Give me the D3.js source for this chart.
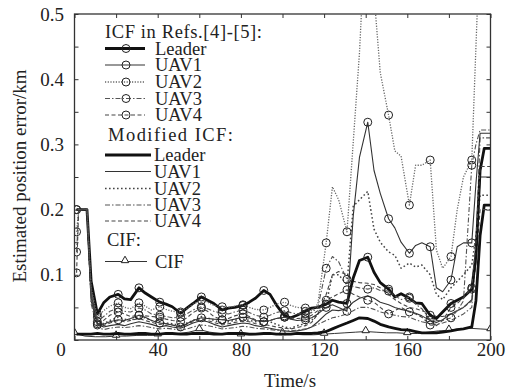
<!DOCTYPE html>
<html>
<head>
<meta charset="utf-8">
<script src="https://cdn.jsdelivr.net/npm/d3@7/dist/d3.min.js"></script>
<style>
  html, body { margin: 0; padding: 0; background: #fff; }
  svg { display: block; font-family: "Liberation Serif", "Times New Roman", serif; }
</style>
</head>
<body>
<svg id="chart" width="516" height="391"></svg>
<script>
// Sample times (s) shared by the ICF and modified ICF estimates
const time = [1, 2, 4, 6, 8, 11, 14, 17, 21, 24, 27, 31, 34, 37, 41, 44, 47, 51, 54, 57,
  61, 64, 67, 71, 74, 77, 81, 84, 87, 91, 94, 97, 101, 104, 107, 111, 114, 117,
  121, 124, 127, 131, 134, 137, 141, 144, 147, 151, 154, 157, 161, 164, 167,
  171, 174, 177, 181, 184, 187, 191, 193, 195, 197, 200];

// ICF in Refs.[4]-[5] (km)
const icfLeader = [0.2, 0.2, 0.2, 0.2, 0.09, 0.04, 0.057, 0.066, 0.07, 0.063, 0.062, 0.08, 0.072, 0.066,
  0.058, 0.055, 0.051, 0.041, 0.049, 0.056, 0.066, 0.061, 0.056, 0.046, 0.049, 0.05, 0.053, 0.058, 0.064,
  0.076, 0.07, 0.054, 0.037, 0.034, 0.038, 0.044, 0.049, 0.05, 0.055, 0.061, 0.058, 0.056, 0.095, 0.122,
  0.127, 0.104, 0.088, 0.078, 0.066, 0.071, 0.064, 0.057, 0.056, 0.038, 0.033, 0.043, 0.056, 0.061, 0.066,
  0.078, 0.13, 0.26, 0.294, 0.294];
const icfUav1 = [0.2, 0.2, 0.2, 0.2, 0.07, 0.025, 0.024, 0.028, 0.031, 0.03, 0.033, 0.038, 0.035, 0.03,
  0.026, 0.025, 0.023, 0.02, 0.025, 0.03, 0.034, 0.033, 0.032, 0.031, 0.03, 0.032, 0.035, 0.034, 0.03,
  0.028, 0.03, 0.033, 0.035, 0.032, 0.03, 0.031, 0.034, 0.04, 0.05, 0.054, 0.05, 0.044, 0.19, 0.28,
  0.334, 0.26, 0.225, 0.186, 0.172, 0.15, 0.133, 0.145, 0.149, 0.143, 0.08, 0.074, 0.092, 0.143, 0.149,
  0.149, 0.24, 0.317, 0.317, 0.317];
const icfUav2 = [0.166, 0.2, 0.2, 0.2, 0.08, 0.035, 0.045, 0.052, 0.057, 0.05, 0.048, 0.057, 0.052, 0.046,
  0.051, 0.047, 0.044, 0.043, 0.048, 0.055, 0.061, 0.058, 0.053, 0.051, 0.05, 0.052, 0.054, 0.05, 0.047,
  0.046, 0.05, 0.055, 0.058, 0.053, 0.05, 0.049, 0.045, 0.055, 0.149, 0.235, 0.215, 0.166, 0.303, 0.44,
  0.7, 0.53, 0.41, 0.345, 0.29, 0.282, 0.207, 0.268, 0.268, 0.276, 0.138, 0.11, 0.128, 0.2, 0.25,
  0.276, 0.45, 0.62, 0.65, 0.65];
const icfUav3 = [0.135, 0.2, 0.2, 0.2, 0.075, 0.028, 0.036, 0.044, 0.049, 0.044, 0.043, 0.049, 0.046, 0.04,
  0.038, 0.036, 0.034, 0.035, 0.04, 0.046, 0.051, 0.048, 0.044, 0.041, 0.04, 0.043, 0.046, 0.042, 0.038,
  0.035, 0.038, 0.042, 0.045, 0.042, 0.04, 0.04, 0.042, 0.05, 0.11, 0.128, 0.12, 0.093, 0.082, 0.08,
  0.078, 0.08, 0.076, 0.075, 0.068, 0.062, 0.066, 0.055, 0.048, 0.031, 0.03, 0.03, 0.034, 0.045, 0.06,
  0.268, 0.3, 0.322, 0.322, 0.322];
const icfUav4 = [0.103, 0.2, 0.2, 0.2, 0.07, 0.023, 0.03, 0.038, 0.043, 0.04, 0.036, 0.038, 0.037, 0.036,
  0.035, 0.032, 0.03, 0.028, 0.034, 0.042, 0.049, 0.044, 0.036, 0.031, 0.033, 0.037, 0.04, 0.036, 0.031,
  0.028, 0.03, 0.033, 0.035, 0.034, 0.033, 0.034, 0.038, 0.045, 0.061, 0.066, 0.071, 0.077, 0.07, 0.066,
  0.061, 0.058, 0.05, 0.04, 0.045, 0.05, 0.043, 0.04, 0.035, 0.023, 0.022, 0.03, 0.05, 0.056, 0.065,
  0.08, 0.15, 0.266, 0.266, 0.266];

// Modified ICF (km)
const modLeader = [0.009, 0.009, 0.009, 0.009, 0.009, 0.01, 0.009, 0.009, 0.01, 0.009, 0.009, 0.01, 0.01, 0.009,
  0.009, 0.01, 0.01, 0.009, 0.009, 0.01, 0.01, 0.01, 0.009, 0.009, 0.01, 0.01, 0.01, 0.009, 0.009,
  0.01, 0.01, 0.009, 0.009, 0.009, 0.01, 0.01, 0.01, 0.011, 0.013, 0.017, 0.021, 0.026, 0.03, 0.034,
  0.033, 0.029, 0.024, 0.02, 0.018, 0.016, 0.015, 0.013, 0.011, 0.011, 0.011, 0.012, 0.014, 0.016, 0.017,
  0.02, 0.06, 0.16, 0.207, 0.207];
const modUav1 = [0.2, 0.2, 0.2, 0.2, 0.06, 0.024, 0.02, 0.022, 0.024, 0.022, 0.025, 0.028, 0.026, 0.024,
  0.02, 0.022, 0.02, 0.018, 0.022, 0.026, 0.03, 0.028, 0.024, 0.02, 0.022, 0.024, 0.026, 0.025, 0.022,
  0.02, 0.018, 0.016, 0.014, 0.013, 0.014, 0.016, 0.02, 0.028, 0.04, 0.046, 0.045, 0.048, 0.058, 0.064,
  0.068, 0.064, 0.058, 0.054, 0.05, 0.047, 0.044, 0.041, 0.037, 0.03, 0.027, 0.031, 0.04, 0.045, 0.05,
  0.062, 0.12, 0.25, 0.25, 0.25];
const modUav2 = [0.2, 0.2, 0.2, 0.2, 0.065, 0.03, 0.025, 0.03, 0.035, 0.032, 0.03, 0.036, 0.034, 0.03,
  0.028, 0.026, 0.025, 0.022, 0.026, 0.03, 0.036, 0.034, 0.03, 0.026, 0.028, 0.03, 0.032, 0.03, 0.028,
  0.03, 0.028, 0.024, 0.02, 0.018, 0.022, 0.025, 0.03, 0.04, 0.055, 0.1, 0.1, 0.085, 0.205, 0.215,
  0.228, 0.17, 0.15, 0.135, 0.13, 0.11, 0.118, 0.112, 0.115, 0.1, 0.07, 0.062, 0.08, 0.09, 0.1,
  0.115, 0.16, 0.222, 0.222, 0.222];
const modUav3 = [0.2, 0.2, 0.2, 0.2, 0.055, 0.02, 0.016, 0.018, 0.02, 0.019, 0.02, 0.022, 0.021, 0.019,
  0.017, 0.018, 0.017, 0.015, 0.017, 0.02, 0.023, 0.022, 0.02, 0.017, 0.018, 0.019, 0.021, 0.02, 0.018,
  0.017, 0.016, 0.015, 0.014, 0.014, 0.015, 0.017, 0.02, 0.024, 0.03, 0.034, 0.036, 0.04, 0.045, 0.05,
  0.05, 0.047, 0.043, 0.04, 0.038, 0.036, 0.035, 0.031, 0.028, 0.025, 0.024, 0.026, 0.03, 0.035, 0.04,
  0.05, 0.14, 0.31, 0.31, 0.31];
const modUav4 = [0.2, 0.2, 0.2, 0.2, 0.07, 0.026, 0.022, 0.026, 0.03, 0.028, 0.03, 0.033, 0.03, 0.027,
  0.024, 0.025, 0.023, 0.02, 0.024, 0.028, 0.032, 0.03, 0.027, 0.023, 0.025, 0.027, 0.029, 0.028, 0.025,
  0.024, 0.022, 0.02, 0.018, 0.017, 0.019, 0.022, 0.027, 0.04, 0.07, 0.1, 0.105, 0.1, 0.09, 0.088,
  0.087, 0.085, 0.08, 0.07, 0.062, 0.056, 0.05, 0.048, 0.045, 0.04, 0.036, 0.036, 0.04, 0.045, 0.05,
  0.06, 0.12, 0.2, 0.2, 0.2];

// CIF (km)
const cifTime = [0, 5, 10, 15, 20, 25, 30, 35, 40, 45, 50, 55, 60, 65, 70, 75, 80, 85, 90, 95, 100,
  105, 110, 115, 120, 125, 130, 135, 140, 145, 150, 155, 160, 165, 170, 175, 180, 185, 190, 195, 200];
const cif = [0.01, 0.006, 0.005, 0.005, 0.006, 0.006, 0.007, 0.007, 0.008, 0.009, 0.01, 0.012, 0.016,
  0.012, 0.01, 0.009, 0.008, 0.008, 0.009, 0.01, 0.01, 0.009, 0.008, 0.008, 0.009, 0.01, 0.011, 0.012,
  0.013, 0.012, 0.011, 0.011, 0.01, 0.01, 0.012, 0.014, 0.015, 0.017, 0.018, 0.017, 0.016];

const markerTimes = [1, 11, 21, 31, 41, 51, 61, 71, 81, 91, 101, 111, 121, 131, 141, 151, 161, 171, 181, 191];
const cifMarkerTimes = [0, 20, 40, 60, 80, 100, 120, 140, 160, 180, 200];

// Axis ticks and labels
const xTicks = [0, 20, 40, 60, 80, 100, 120, 140, 160, 180, 200];
const xLabels = [0, 40, 80, 120, 160, 200];
const yTicks = [0, 0.05, 0.1, 0.15, 0.2, 0.25, 0.3, 0.35, 0.4, 0.45, 0.5];
const yLabels = [0.1, 0.2, 0.3, 0.4, 0.5];

const svg = d3.select("#chart");
const plot = { left: 74.5, right: 490.5, top: 14, bottom: 340 };

const x = d3.scaleLinear().domain([0, 200]).range([plot.left, plot.right]);
const y = d3.scaleLinear().domain([0, 0.5]).range([plot.bottom, plot.top]);

svg.append("defs").append("clipPath").attr("id", "plotClip")
  .append("rect")
  .attr("x", plot.left).attr("y", plot.top)
  .attr("width", plot.right - plot.left).attr("height", plot.bottom - plot.top);

// Line styles
const styles = {
  leader: { width: 2.8, color: "#111", dash: null },
  uav1: { width: 1.1, color: "#333", dash: null },
  icfUav2: { width: 1.3, color: "#666", dash: "1.2,1.5" },
  uav3: { width: 1.1, color: "#555", dash: "5,2,1.5,2" },
  uav4: { width: 1.1, color: "#444", dash: "4,2.5" },
  modUav2: { width: 1.5, color: "#444", dash: "1.6,2.4" }
};

const series = [
  { group: "icf", label: "Leader", values: icfLeader, style: styles.leader },
  { group: "icf", label: "UAV1", values: icfUav1, style: styles.uav1 },
  { group: "icf", label: "UAV2", values: icfUav2, style: styles.icfUav2 },
  { group: "icf", label: "UAV3", values: icfUav3, style: styles.uav3 },
  { group: "icf", label: "UAV4", values: icfUav4, style: styles.uav4 },
  { group: "mod", label: "Leader", values: modLeader, style: styles.leader },
  { group: "mod", label: "UAV1", values: modUav1, style: styles.uav1 },
  { group: "mod", label: "UAV2", values: modUav2, style: styles.modUav2 },
  { group: "mod", label: "UAV3", values: modUav3, style: styles.uav3 },
  { group: "mod", label: "UAV4", values: modUav4, style: styles.uav4 }
];

const line = d3.line().x(d => x(d[0])).y(d => y(d[1]));
const layer = svg.append("g").attr("clip-path", "url(#plotClip)");

function styled(sel, st) {
  sel.attr("fill", "none")
    .attr("stroke", st.color)
    .attr("stroke-width", st.width)
    .attr("stroke-linejoin", "round");
  if (st.dash) sel.attr("stroke-dasharray", st.dash);
  return sel;
}

// CIF line with triangles
const cifPts = cifTime.map((t, i) => [t, cif[i]]);
styled(layer.append("path").datum(cifPts).attr("d", line), { width: 1, color: "#333" });
const tri = d3.symbol().type(d3.symbolTriangle).size(24);
layer.selectAll(".cifMark")
  .data(cifPts.filter(p => cifMarkerTimes.includes(p[0])))
  .join("path")
  .attr("transform", d => `translate(${x(d[0])},${y(d[1]) - 1})`)
  .attr("d", tri)
  .attr("fill", "#fff").attr("stroke", "#222").attr("stroke-width", 1);

// Estimate curves; modified ICF first, ICF (with circle markers) on top
const order = series.filter(s => s.group === "mod").concat(series.filter(s => s.group === "icf"));
order.forEach(s => {
  const pts = time.map((t, i) => [t, s.values[i]]);
  styled(layer.append("path").datum(pts).attr("d", line), s.style);
  if (s.group === "icf") {
    layer.selectAll(null)
      .data(pts.filter(p => markerTimes.includes(p[0])))
      .join("circle")
      .attr("cx", d => x(d[0])).attr("cy", d => y(d[1]))
      .attr("r", 4)
      .attr("fill", "none").attr("stroke", "#222").attr("stroke-width", 1);
  }
});

// Axes with inward ticks on all four sides
const fmtX = d => xLabels.includes(d) ? String(d) : "";
const fmtY = d => yLabels.some(v => Math.abs(v - d) < 1e-9) ? d3.format(".1f")(d) : "";

const axisB = svg.append("g").attr("transform", `translate(0,${plot.bottom})`)
  .call(d3.axisBottom(x).tickValues(xTicks).tickSize(-4).tickSizeOuter(0).tickPadding(2).tickFormat(fmtX));
svg.append("g").attr("transform", `translate(${plot.left},0)`)
  .call(d3.axisLeft(y).tickValues(yTicks).tickSize(-4).tickSizeOuter(0).tickPadding(10.5).tickFormat(fmtY));
svg.append("g").attr("transform", `translate(0,${plot.top})`)
  .call(d3.axisTop(x).tickValues(xTicks).tickSize(-4).tickSizeOuter(0).tickFormat(""));
svg.append("g").attr("transform", `translate(${plot.right},0)`)
  .call(d3.axisRight(y).tickValues(yTicks).tickSize(-4).tickSizeOuter(0).tickFormat(""));

svg.selectAll(".domain").remove();
svg.selectAll(".tick line").attr("stroke", "#333").attr("stroke-width", 1);
svg.selectAll(".tick text")
  .attr("font-family", "'Liberation Serif', 'Times New Roman', serif")
  .attr("font-size", 19).attr("fill", "#222");
axisB.selectAll(".tick text").filter(d => d === 0).attr("dx", -14);

svg.append("rect")
  .attr("x", plot.left).attr("y", plot.top)
  .attr("width", plot.right - plot.left).attr("height", plot.bottom - plot.top)
  .attr("fill", "none").attr("stroke", "#333").attr("stroke-width", 1.3);

// Axis titles
svg.append("text")
  .attr("x", 290).attr("y", 387)
  .attr("text-anchor", "middle").attr("font-size", 19).attr("fill", "#222")
  .text("Time/s");
svg.append("text")
  .attr("transform", "translate(26,176) rotate(-90)")
  .attr("text-anchor", "middle").attr("font-size", 19).attr("fill", "#222")
  .text("Estimated position error/km");

// Legend (rows sit tightly, as in the printed figure)
const legend = svg.append("g").attr("font-size", 18.5).attr("fill", "#222");
const rowY = { icfTitle: 31.5, icf: [48.5, 65, 82, 98.5, 115],
  modTitle: 135, mod: [155, 171.5, 188.5, 205, 221], cifTitle: 240, cif: 261.5 };

legend.append("text").attr("x", 105).attr("y", rowY.icfTitle + 6)
  .attr("textLength", 157).attr("lengthAdjust", "spacing").text("ICF in Refs.[4]-[5]:");
legend.append("text").attr("x", 108).attr("y", rowY.modTitle + 6)
  .attr("textLength", 125).attr("lengthAdjust", "spacing").text("Modified ICF:");
legend.append("text").attr("x", 107).attr("y", rowY.cifTitle + 6).text("CIF:");

series.forEach((s, i) => {
  const isIcf = s.group === "icf";
  const cy = isIcf ? rowY.icf[i] : rowY.mod[i - 5];
  const x1 = 105, x2 = isIcf ? 145 : 151;
  styled(legend.append("line").attr("x1", x1).attr("x2", x2).attr("y1", cy).attr("y2", cy), s.style);
  if (isIcf) {
    legend.append("circle").attr("cx", 126).attr("cy", cy).attr("r", 4)
      .attr("fill", "none").attr("stroke", "#222").attr("stroke-width", 1);
  }
  legend.append("text").attr("x", isIcf ? 155 : 154).attr("y", cy + 6).text(s.label);
});

styled(legend.append("line").attr("x1", 105).attr("x2", 147)
  .attr("y1", rowY.cif).attr("y2", rowY.cif), { width: 1, color: "#333" });
legend.append("path").attr("transform", `translate(125,${rowY.cif - 1})`).attr("d", tri)
  .attr("fill", "#fff").attr("stroke", "#222").attr("stroke-width", 1);
legend.append("text").attr("x", 155).attr("y", rowY.cif + 6).text("CIF");
</script>
</body>
</html>
